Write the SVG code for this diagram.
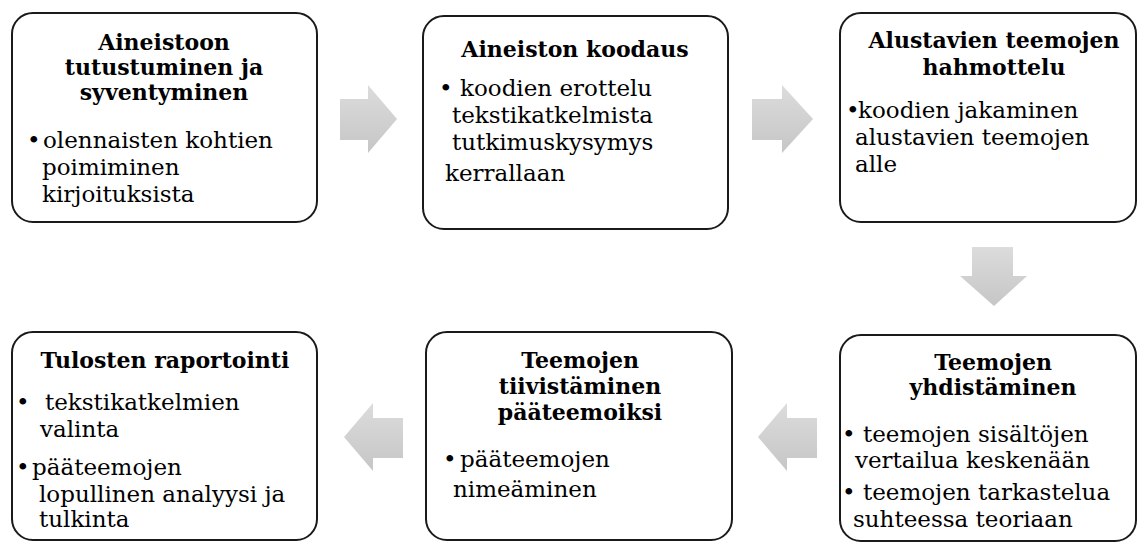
<svg xmlns="http://www.w3.org/2000/svg" width="1137" height="542" viewBox="0 0 1137 542">
<style>
.box{fill:#fff;stroke:#1a1a1a;stroke-width:2}
.t{font-family:"DejaVu Serif","Liberation Serif",serif;font-weight:bold;font-size:22px;fill:#000;text-anchor:middle}
.b{font-family:"DejaVu Serif","Liberation Serif",serif;font-size:23px;fill:#000}
.arr{fill:url(#g)}
</style>
<defs>
<linearGradient id="g" x1="0" y1="0" x2="0" y2="1">
<stop offset="0" stop-color="#dcdcdc"/>
<stop offset="1" stop-color="#c6c6c6"/>
</linearGradient>
</defs>
<g id="connectors">
<polygon class="arr" points="340,99 368,99 368,85 397,119 368,153 368,140 340,140"/>
<polygon class="arr" points="752,99 782,99 782,85 813,119 782,153 782,140 752,140"/>
<polygon class="arr" points="972,247 1013,247 1013,276 1027,276 994,306 960,276 972,276"/>
<polygon class="arr" points="817,418 787,418 787,403 758,437 787,471 787,458 817,458"/>
<polygon class="arr" points="403,418 373,418 373,403 344,437 373,471 373,458 403,458"/>
</g>
<g id="node1">
<rect class="box" x="12" y="13" width="305" height="209" rx="21"/>
<text class="t" x="164" y="50">Aineistoon</text>
<text class="t" x="164" y="75">tutustuminen ja</text>
<text class="t" x="164" y="100">syventyminen</text>
<text class="b" x="27" y="148">•</text>
<text class="b" x="43" y="148">olennaisten kohtien</text>
<text class="b" x="42" y="175">poimiminen</text>
<text class="b" x="42" y="202">kirjoituksista</text>
</g>
<g id="node2">
<rect class="box" x="423" y="16" width="305" height="213" rx="21"/>
<text class="t" x="575" y="57">Aineiston koodaus</text>
<text class="b" x="439" y="96">•</text>
<text class="b" x="460" y="96">koodien erottelu</text>
<text class="b" x="452" y="123">tekstikatkelmista</text>
<text class="b" x="452" y="150">tutkimuskysymys</text>
<text class="b" x="445" y="181">kerrallaan</text>
</g>
<g id="node3">
<rect class="box" x="840" y="13" width="296" height="209" rx="21"/>
<text class="t" x="994" y="48">Alustavien teemojen</text>
<text class="t" x="994" y="75">hahmottelu</text>
<text class="b" x="846" y="118">•</text>
<text class="b" x="858" y="118">koodien jakaminen</text>
<text class="b" x="855" y="145">alustavien teemojen</text>
<text class="b" x="855" y="172">alle</text>
</g>
<g id="node6">
<rect class="box" x="840" y="335" width="296" height="206" rx="21"/>
<text class="t" x="993" y="370">Teemojen</text>
<text class="t" x="993" y="395">yhdistäminen</text>
<text class="b" x="842" y="442">•</text>
<text class="b" x="863" y="442">teemojen sisältöjen</text>
<text class="b" x="855" y="468">vertailua keskenään</text>
<text class="b" x="842" y="500">•</text>
<text class="b" x="863" y="500">teemojen tarkastelua</text>
<text class="b" x="853" y="527">suhteessa teoriaan</text>
</g>
<g id="node5">
<rect class="box" x="426" y="332" width="306" height="208" rx="21"/>
<text class="t" x="580" y="368">Teemojen</text>
<text class="t" x="580" y="394">tiivistäminen</text>
<text class="t" x="580" y="420">pääteemoiksi</text>
<text class="b" x="443" y="467">•</text>
<text class="b" x="460" y="467">pääteemojen</text>
<text class="b" x="453" y="497">nimeäminen</text>
</g>
<g id="node4">
<rect class="box" x="12" y="332" width="305" height="208" rx="21"/>
<text class="t" x="165" y="368">Tulosten raportointi</text>
<text class="b" x="16" y="410">•</text>
<text class="b" x="45" y="410">tekstikatkelmien</text>
<text class="b" x="40" y="437">valinta</text>
<text class="b" x="16" y="475">•</text>
<text class="b" x="32" y="475">pääteemojen</text>
<text class="b" x="39" y="502">lopullinen analyysi ja</text>
<text class="b" x="39" y="527">tulkinta</text>
</g>
</svg>
